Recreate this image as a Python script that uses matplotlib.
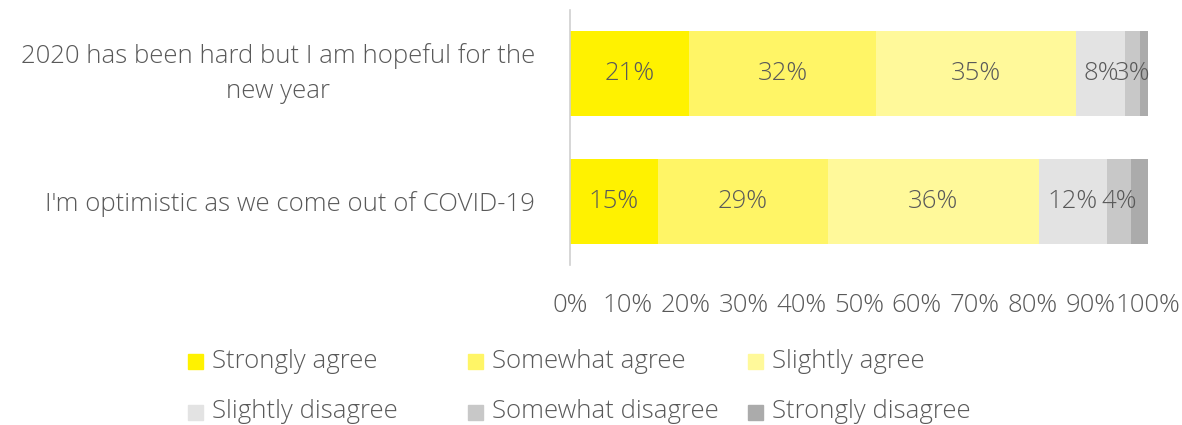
import numpy as np
import matplotlib.pyplot as plt
import matplotlib.transforms as mtransforms
from matplotlib.patches import Rectangle

plt.rcParams['font.family'] = ['Open Sans', 'DejaVu Sans']

statements = ['2020 has been hard but I am hopeful for the\nnew year',
              "I'm optimistic as we come out of COVID-19"]
responses = ['Strongly agree', 'Somewhat agree', 'Slightly agree',
             'Slightly disagree', 'Somewhat disagree', 'Strongly disagree']
# percent of respondents per answer, one list per statement
hopeful_new_year = [20.6, 32.4, 34.6, 8.5, 2.6, 1.3]
optimistic_covid = [15.2, 29.4, 36.5, 11.8, 4.2, 2.9]
colors = ['#FFF200', '#FFF566', '#FFF99A', '#E3E3E3', '#C8C8C8', '#ABABAB']
text_color = '#595959'
fs = 18.5

values = np.array([hopeful_new_year, optimistic_covid])

fig = plt.figure(figsize=(11.82, 4.25), dpi=100)
ax = fig.add_axes([570 / 1182, 1 - 265 / 425, 578 / 1182, 255 / 425])

y = np.arange(len(statements))
left = np.zeros(len(statements))
for k, name in enumerate(responses):
    bars = ax.barh(y, values[:, k], left=left, height=0.67, color=colors[k])
    if k < len(responses) - 1:
        ax.bar_label(bars, labels=[f'{v:.0f}%' for v in values[:, k]],
                     label_type='center', color=text_color, fontsize=fs,
                     fontweight='light')
    left += values[:, k]

ax.set_xlim(0, 100)
ax.set_ylim(1.5, -0.5)
ax.set_xticks(np.arange(0, 101, 10))
ax.set_xticklabels([f'{t}%' for t in range(0, 101, 10)], fontweight='light')
ax.set_yticks(y)
ax.set_yticklabels(statements, multialignment='center', linespacing=1.55,
                   fontweight='light')
ax.tick_params(axis='x', length=0, pad=20, labelsize=fs, labelcolor=text_color)
ax.tick_params(axis='y', length=0, pad=25, labelsize=fs, labelcolor=text_color)
# nudge the two-line label up a little
first = ax.get_yticklabels()[0]
first.set_transform(first.get_transform() +
                    mtransforms.ScaledTranslation(0, 6 / 72, fig.dpi_scale_trans))
for side in ['top', 'right', 'bottom']:
    ax.spines[side].set_visible(False)
ax.spines['left'].set_color('#D0D0D0')
ax.spines['left'].set_linewidth(1.2)

# legend laid out by hand in two rows of three
col_x = [188, 468, 748]
row_y = [361, 412]
for k, name in enumerate(responses):
    px = col_x[k % 3]
    py = row_y[k // 3]
    fig.patches.append(Rectangle((px / 1182, 1 - (py + 8) / 425), 15 / 1182, 15 / 425,
                                 transform=fig.transFigure, color=colors[k]))
    fig.text((px + 24) / 1182, 1 - py / 425, name, ha='left', va='center',
             fontsize=fs, color=text_color, fontweight='light')

plt.savefig('out.png', dpi=100)
